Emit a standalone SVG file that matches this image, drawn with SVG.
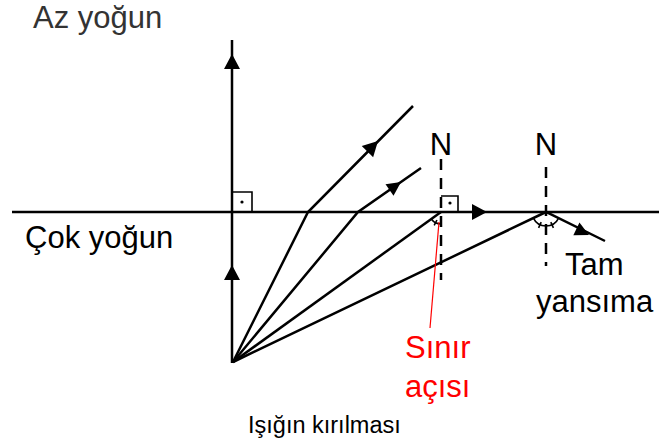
<svg xmlns="http://www.w3.org/2000/svg" xmlns:xlink="http://www.w3.org/1999/xlink" width="659" height="446" viewBox="0 0 659 446">
<style>
.ln{stroke:#000;stroke-width:2.5;fill:none;stroke-linecap:butt}
.thin{stroke:#000;stroke-width:1.6;fill:none}
.dash{stroke:#000;stroke-width:2.5;fill:none;stroke-dasharray:11 8}
.t{font-family:"Liberation Sans",Arial,sans-serif;font-size:31px;fill:#000}
.red{fill:#ff0000}
.gray{fill:#333}
</style>
<defs>
<path id="ah" d="M0,0 L-15,-8 L-15,8 Z" fill="#000"/>
<path id="ahs" d="M0,0 L-14,-7 L-14,7 Z" fill="#000"/>
</defs>
<rect width="659" height="446" fill="#fff"/>
<g id="texts">
<text class="t gray" x="33" y="28">Az yoğun</text>
<text class="t" x="25" y="248">Çok yoğun</text>
<text class="t" x="441" y="155" text-anchor="middle">N</text>
<text class="t" x="546" y="155" text-anchor="middle">N</text>
<text class="t" x="565" y="275">Tam</text>
<text class="t" x="536" y="312">yansıma</text>
<text class="t red" x="405" y="358">Sınır</text>
<text class="t red" x="405" y="397">açısı</text>
<text class="t" x="248" y="433" style="font-size:23.5px">Işığın kırılması</text>
</g>
<g id="connectors">
<line class="ln" x1="12" y1="212" x2="659" y2="212"/>
<line class="ln" x1="232" y1="40" x2="232" y2="363"/>
<path class="ln" d="M233,362 L308,212 L413,106"/>
<path class="ln" d="M233,362 L358,212 L421,168"/>
<path class="ln" d="M233,362 L441,212"/>
<path class="ln" d="M233,362 L546,212 L605,241"/>
<line class="dash" x1="441" y1="159" x2="441" y2="280"/>
<line class="dash" x1="546" y1="167" x2="546" y2="266"/>
<path class="thin" d="M232,192 H252 V212"/>
<circle cx="242" cy="202" r="1.6" fill="#000"/>
<path class="thin" d="M441,196 H458 V212"/>
<circle cx="450" cy="203" r="1.6" fill="#000"/>
<path class="thin" d="M441,224 A12,12 0 0 1 431.3,219"/>
<line class="thin" x1="436.9" y1="220" x2="434.2" y2="225.4"/>
<path class="thin" d="M546,226 A14,14 0 0 1 533.4,218.1"/>
<line class="thin" x1="541.2" y1="222.2" x2="538.6" y2="227.9"/>
<path class="thin" d="M546,226 A14,14 0 0 0 558.6,218.1"/>
<line class="thin" x1="550.8" y1="222.2" x2="553.4" y2="227.9"/>
<line x1="439" y1="222" x2="430" y2="328" stroke="#ff0000" stroke-width="1.2"/>
<use xlink:href="#ah" transform="translate(232,54) rotate(-90)"/>
<use xlink:href="#ah" transform="translate(232,265) rotate(-90)"/>
<use xlink:href="#ah" transform="translate(378,141) rotate(-45.3)"/>
<use xlink:href="#ahs" transform="translate(401,182) rotate(-34.9)"/>
<use xlink:href="#ah" transform="translate(487,212)"/>
<use xlink:href="#ahs" transform="translate(589,235) rotate(25.8)"/>
</g>
</svg>
